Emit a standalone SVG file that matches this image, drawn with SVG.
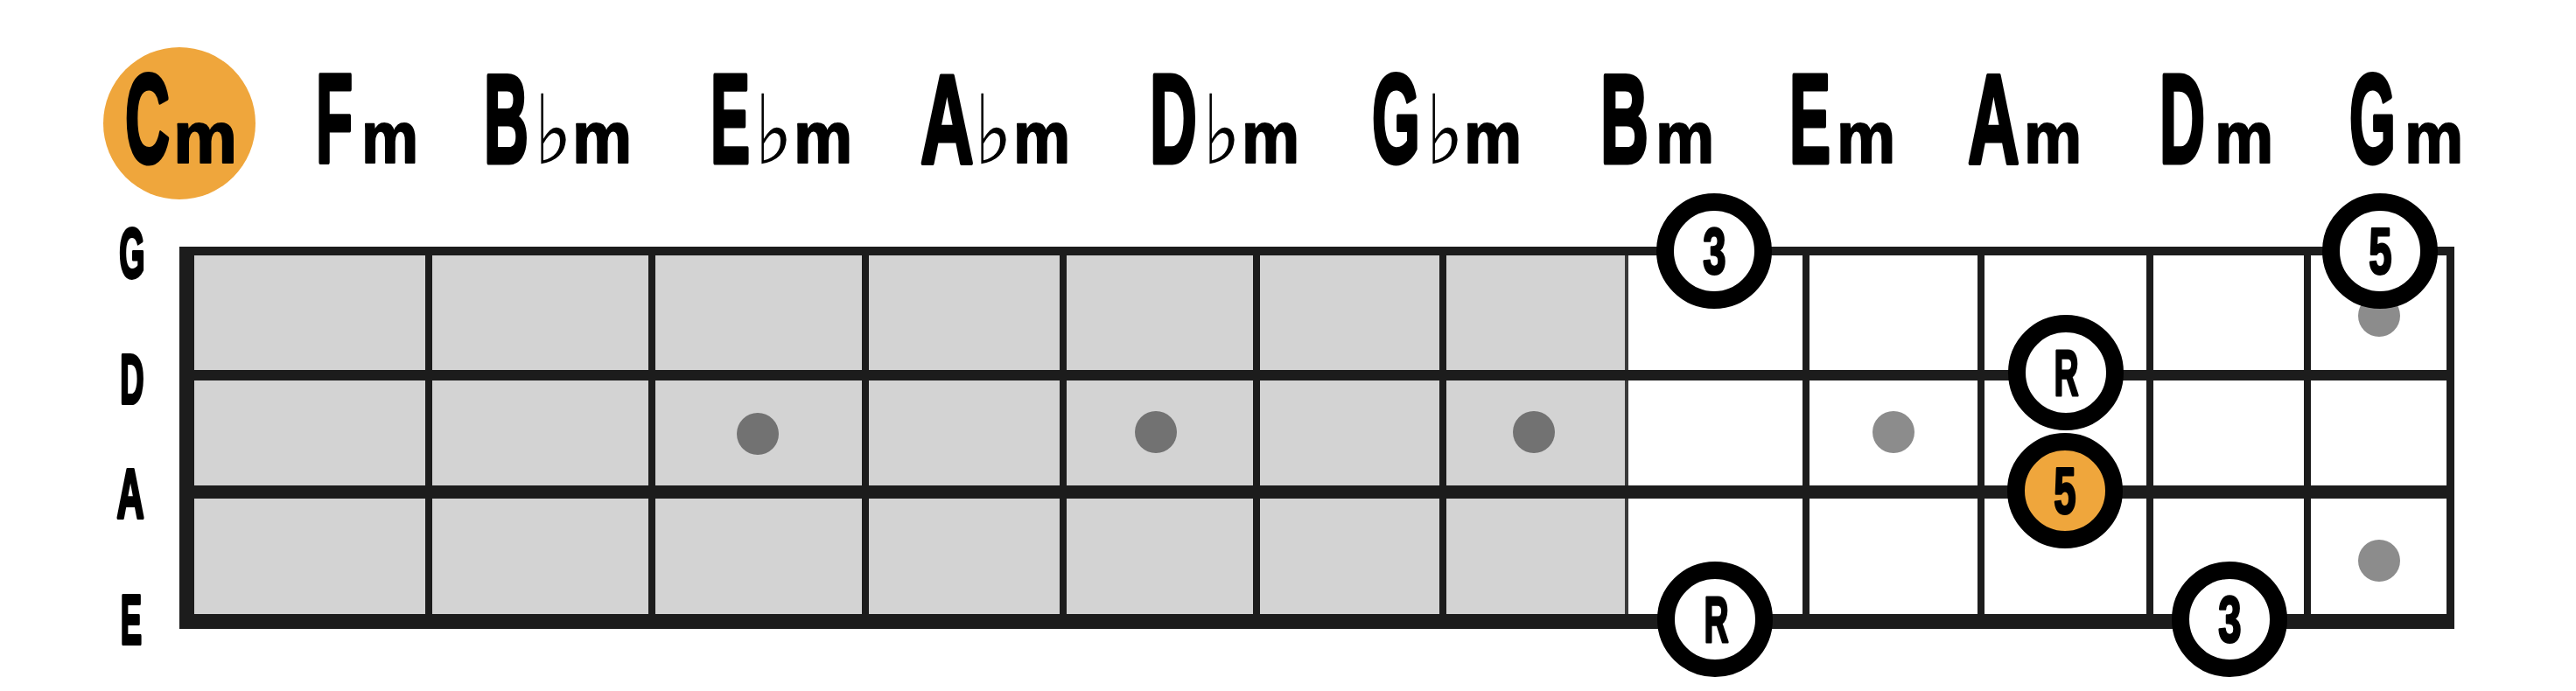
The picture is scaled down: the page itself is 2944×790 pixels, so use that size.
<svg xmlns="http://www.w3.org/2000/svg" width="2944" height="790" viewBox="0 0 2944 790">
<style>
.ct{font-family:"Liberation Sans",Arial,sans-serif;font-weight:bold;fill:#000;stroke:#000;stroke-linejoin:round}
.ch{font-size:144px;stroke-width:5px}
.mm{font-size:84px;stroke-width:2px}
.fl{font-family:"DejaVu Sans",sans-serif;font-size:110px;fill:#000}
.sl{font-family:"Liberation Sans",Arial,sans-serif;font-weight:bold;font-size:80px;fill:#000;stroke:#000;stroke-width:4px;stroke-linejoin:round;text-anchor:middle}
.nl{font-family:"Liberation Sans",Arial,sans-serif;font-weight:bold;font-size:75px;fill:#000;stroke:#000;stroke-width:3px;stroke-linejoin:round;text-anchor:middle}
.str{stroke:#1c1c1c;fill:none}
.fret{stroke:#1c1c1c;stroke-width:8}
.ring{stroke:#000;stroke-width:20;fill:#fff}
.dk{fill:#727272}
.lt{fill:#8c8c8c}
</style>
<rect width="2944" height="790" fill="#fff"/>
<g id="chords">
<circle cx="205" cy="141" r="87" fill="#efa63c"/>
<g id="chord-Cm"><text class="ct ch" transform="matrix(0.49 0 0 1 143 186)">C</text><text class="ct mm" transform="matrix(0.979 0 0 1 198 186)">m</text></g>
<g id="chord-Fm"><text class="ct ch" transform="matrix(0.479 0 0 1 361 186)">F</text><text class="ct mm" transform="matrix(0.873 0 0 1 413 186)">m</text></g>
<g id="chord-Bbm"><text class="ct ch" transform="matrix(0.49 0 0 1 553 186)">B</text><text class="fl" transform="matrix(0.85 0 0 1 610 187)">♭</text><text class="ct mm" transform="matrix(0.913 0 0 1 654 186)">m</text></g>
<g id="chord-Ebm"><text class="ct ch" transform="matrix(0.469 0 0 1 812 186)">E</text><text class="fl" transform="matrix(0.85 0 0 1 862 187)">♭</text><text class="ct mm" transform="matrix(0.9 0 0 1 907 186)">m</text></g>
<g id="chord-Abm"><text class="ct ch" transform="matrix(0.584 0 0 1 1052 186)">A</text><text class="fl" transform="matrix(0.85 0 0 1 1113 187)">♭</text><text class="ct mm" transform="matrix(0.873 0 0 1 1158 186)">m</text></g>
<g id="chord-Dbm"><text class="ct ch" transform="matrix(0.518 0 0 1 1314 186)">D</text><text class="fl" transform="matrix(0.85 0 0 1 1374 187)">♭</text><text class="ct mm" transform="matrix(0.886 0 0 1 1419 186)">m</text></g>
<g id="chord-Gbm"><text class="ct ch" transform="matrix(0.49 0 0 1 1568 186)">G</text><text class="fl" transform="matrix(0.85 0 0 1 1629 187)">♭</text><text class="ct mm" transform="matrix(0.886 0 0 1 1673 186)">m</text></g>
<g id="chord-Bm"><text class="ct ch" transform="matrix(0.528 0 0 1 1829 186)">B</text><text class="ct mm" transform="matrix(0.9 0 0 1 1892 186)">m</text></g>
<g id="chord-Em"><text class="ct ch" transform="matrix(0.49 0 0 1 2045 186)">E</text><text class="ct mm" transform="matrix(0.9 0 0 1 2099 186)">m</text></g>
<g id="chord-Am"><text class="ct ch" transform="matrix(0.566 0 0 1 2249 186)">A</text><text class="ct mm" transform="matrix(0.886 0 0 1 2313 186)">m</text></g>
<g id="chord-Dm"><text class="ct ch" transform="matrix(0.5 0 0 1 2468 186)">D</text><text class="ct mm" transform="matrix(0.9 0 0 1 2531 186)">m</text></g>
<g id="chord-Gm"><text class="ct ch" transform="matrix(0.472 0 0 1 2685 186)">G</text><text class="ct mm" transform="matrix(0.9 0 0 1 2748 186)">m</text></g>
</g>
<g id="string-labels">
<text class="sl" transform="matrix(0.47 0 0 1 151 317)">G</text>
<text class="sl" transform="matrix(0.473 0 0 1 151 461)">D</text>
<text class="sl" transform="matrix(0.54 0 0 1 149 592)">A</text>
<text class="sl" transform="matrix(0.457 0 0 1 150 736)">E</text>
</g>
<g id="fretboard">
<rect x="213" y="287" width="1645" height="423" fill="#d3d3d3"/>
<g id="frets">
<line class="fret" x1="490" y1="287" x2="490" y2="710"/>
<line class="fret" x1="745" y1="287" x2="745" y2="710"/>
<line class="fret" x1="989" y1="287" x2="989" y2="710"/>
<line class="fret" x1="1215" y1="287" x2="1215" y2="710"/>
<line class="fret" x1="1436" y1="287" x2="1436" y2="710"/>
<line class="fret" x1="1649" y1="287" x2="1649" y2="710"/>
<line class="fret" x1="2064" y1="287" x2="2064" y2="710"/>
<line class="fret" x1="2264" y1="287" x2="2264" y2="710"/>
<line class="fret" x1="2457" y1="287" x2="2457" y2="710"/>
<line class="fret" x1="2637" y1="287" x2="2637" y2="710"/>
<line x1="1859" y1="283" x2="1859" y2="714" stroke="#3a3a3a" stroke-width="4"/>
</g>
<g id="strings">
<line class="str" x1="205" y1="287" x2="2805" y2="287" stroke-width="10"/>
<line class="str" x1="205" y1="429" x2="2805" y2="429" stroke-width="12"/>
<line class="str" x1="205" y1="562.5" x2="2805" y2="562.5" stroke-width="15"/>
<line class="str" x1="205" y1="710.5" x2="2805" y2="710.5" stroke-width="17"/>
<line class="str" x1="213.5" y1="282" x2="213.5" y2="719" stroke-width="17"/>
<line class="str" x1="2800.5" y1="282" x2="2800.5" y2="719" stroke-width="9"/>
</g>
<g id="inlays">
<circle class="dk" cx="866" cy="496" r="24"/>
<circle class="dk" cx="1321" cy="494" r="24"/>
<circle class="dk" cx="1753" cy="494" r="24"/>
<circle class="lt" cx="2164" cy="494" r="24"/>
<circle class="lt" cx="2719" cy="361" r="24"/>
<circle class="lt" cx="2719" cy="641" r="24"/>
</g>
</g>
<g id="notes">
<g id="note-G-3"><circle class="ring" cx="1959" cy="287" r="56"/><text class="nl" transform="matrix(0.63 0 0 1 1959.5 313)">3</text></g>
<g id="note-G-5"><circle class="ring" cx="2720" cy="287" r="56"/><text class="nl" transform="matrix(0.63 0 0 1 2720.5 313)">5</text></g>
<g id="note-D-R"><circle class="ring" cx="2361" cy="426" r="56"/><text class="nl" transform="matrix(0.52 0 0 1 2361.5 452)">R</text></g>
<g id="note-A-5"><circle class="ring" cx="2360" cy="561" r="56" style="fill:#efa63c"/><text class="nl" transform="matrix(0.607 0 0 1 2360 587)">5</text></g>
<g id="note-E-R"><circle class="ring" cx="1960" cy="708" r="56"/><text class="nl" transform="matrix(0.52 0 0 1 1961.5 734)">R</text></g>
<g id="note-E-3"><circle class="ring" cx="2548" cy="708" r="56"/><text class="nl" transform="matrix(0.63 0 0 1 2548.5 734)">3</text></g>
</g>
</svg>
